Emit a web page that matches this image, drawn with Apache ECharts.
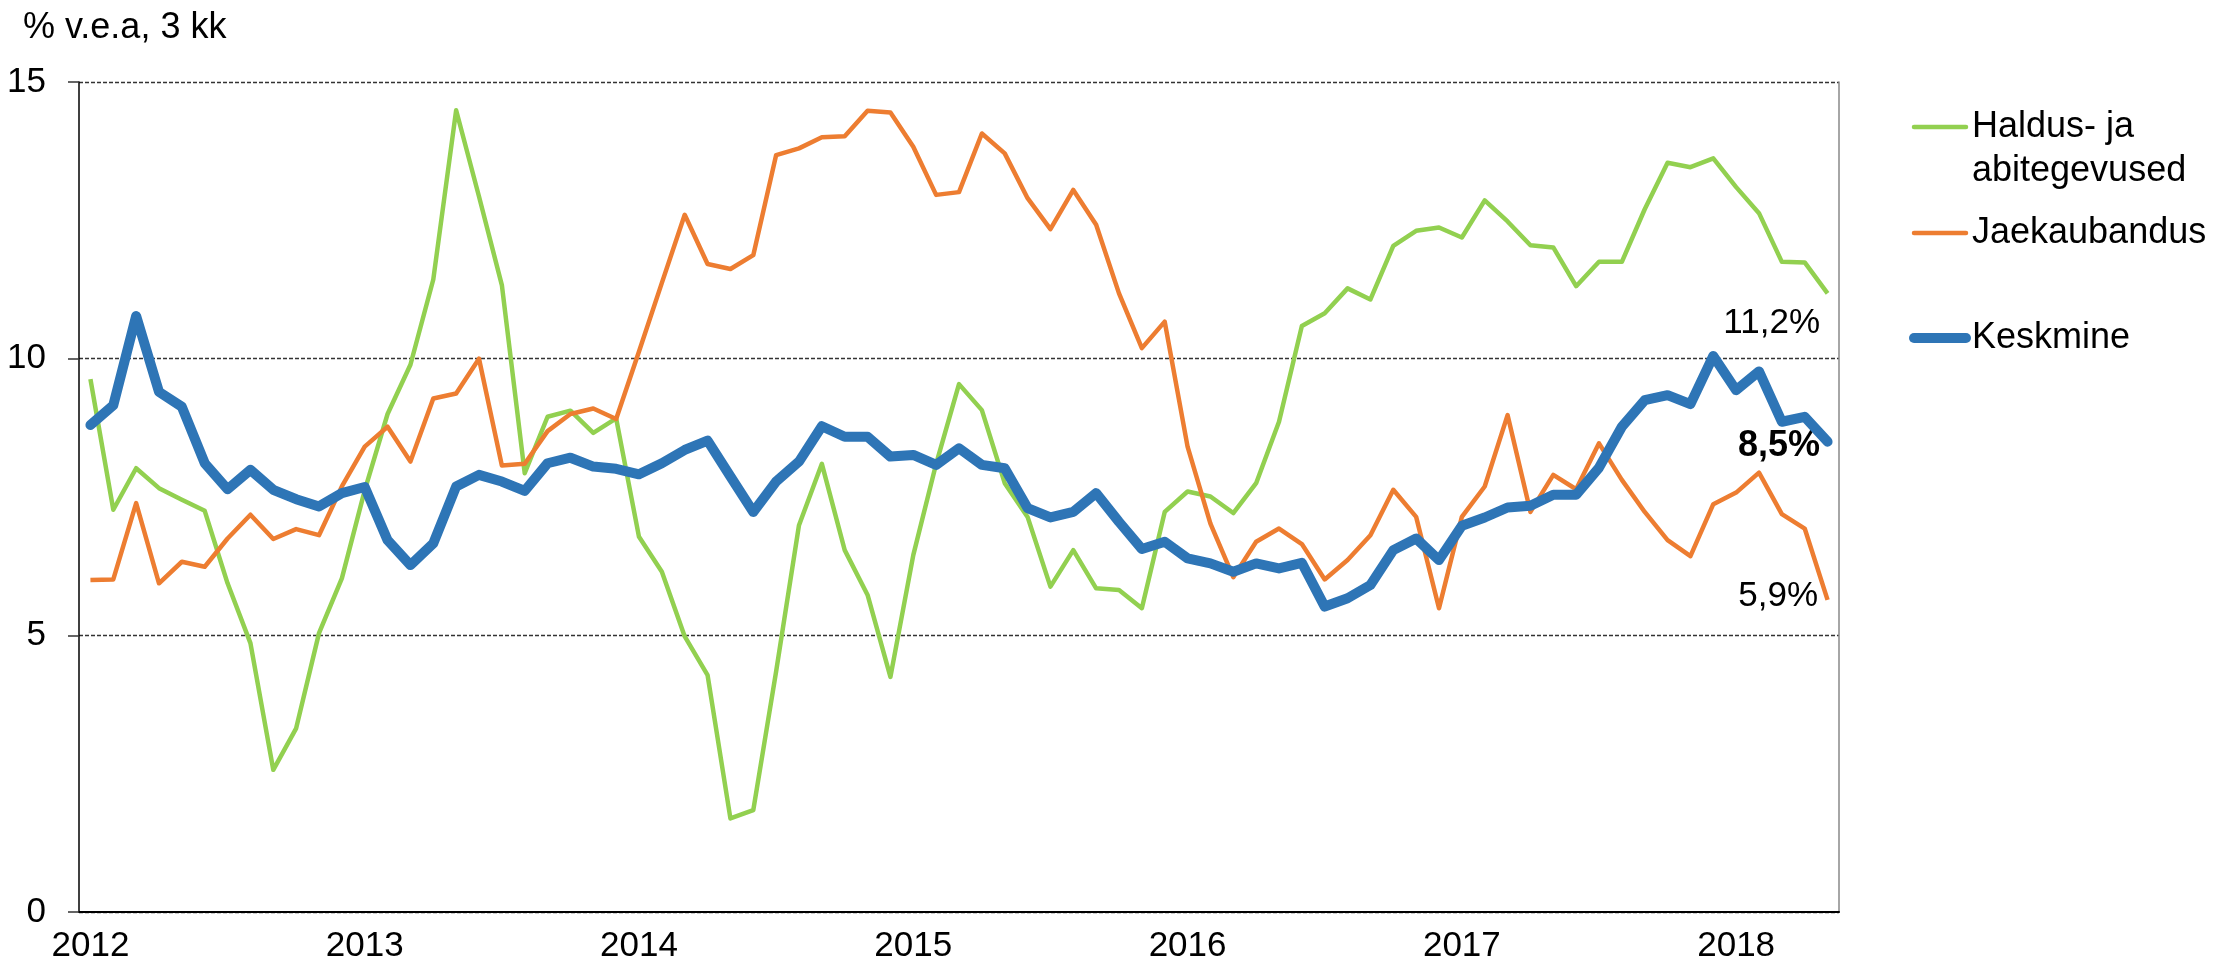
<!DOCTYPE html>
<html>
<head>
<meta charset="utf-8">
<script src="https://cdn.jsdelivr.net/npm/echarts@6/dist/echarts.min.js"></script>
<style>
html, body { margin: 0; padding: 0; background: #fff; }
#chart { width: 2220px; height: 974px; }
</style>
</head>
<body>
<div id="chart"></div>
<script>
// kuud 2012-01 ... 2018-05
const months = [
  '2012-01', '2012-02', '2012-03', '2012-04', '2012-05', '2012-06', '2012-07', '2012-08', '2012-09', '2012-10', '2012-11', '2012-12',
  '2013-01', '2013-02', '2013-03', '2013-04', '2013-05', '2013-06', '2013-07', '2013-08', '2013-09', '2013-10', '2013-11', '2013-12',
  '2014-01', '2014-02', '2014-03', '2014-04', '2014-05', '2014-06', '2014-07', '2014-08', '2014-09', '2014-10', '2014-11', '2014-12',
  '2015-01', '2015-02', '2015-03', '2015-04', '2015-05', '2015-06', '2015-07', '2015-08', '2015-09', '2015-10', '2015-11', '2015-12',
  '2016-01', '2016-02', '2016-03', '2016-04', '2016-05', '2016-06', '2016-07', '2016-08', '2016-09', '2016-10', '2016-11', '2016-12',
  '2017-01', '2017-02', '2017-03', '2017-04', '2017-05', '2017-06', '2017-07', '2017-08', '2017-09', '2017-10', '2017-11', '2017-12',
  '2018-01', '2018-02', '2018-03', '2018-04', '2018-05'
]

const haldus = [
  9.63, 7.27, 8.02, 7.66, 7.45, 7.25, 5.94, 4.86, 2.57, 3.32, 5.04, 6.03,
  7.62, 9.0, 9.89, 11.43, 14.49, 12.93, 11.33, 7.93, 8.95, 9.06, 8.66, 8.92,
  6.78, 6.15, 4.98, 4.28, 1.69, 1.84, 4.35, 6.99, 8.1, 6.54, 5.73, 4.25,
  6.45, 8.1, 9.54, 9.07, 7.75, 7.14, 5.88, 6.54, 5.85, 5.82, 5.49, 7.23,
  7.6, 7.51, 7.21, 7.75, 8.86, 10.59, 10.82, 11.27, 11.07, 12.04, 12.31, 12.37,
  12.19, 12.86, 12.48, 12.05, 12.01, 11.31, 11.75, 11.75, 12.7, 13.54, 13.46, 13.62,
  13.1, 12.63, 11.75, 11.74, 11.18
]

const jaekaubandus = [
  6.0, 6.01, 7.39, 5.94, 6.33, 6.24, 6.75, 7.18, 6.74, 6.92, 6.81, 7.69,
  8.41, 8.77, 8.14, 9.28, 9.37, 10.0, 8.07, 8.10, 8.69, 9.0, 9.10, 8.91,
  10.13, 11.37, 12.60, 11.71, 11.62, 11.87, 13.68, 13.80, 14.0, 14.02, 14.48, 14.45,
  13.83, 12.96, 13.01, 14.07, 13.71, 12.90, 12.34, 13.05, 12.42, 11.18, 10.19, 10.67,
  8.41, 7.02, 6.05, 6.69, 6.93, 6.65, 6.01, 6.36, 6.81, 7.63, 7.14, 5.49,
  7.14, 7.69, 8.98, 7.23, 7.90, 7.64, 8.47, 7.81, 7.23, 6.72, 6.43, 7.37,
  7.58, 7.94, 7.19, 6.93, 5.64
]

const keskmine = [
  8.80, 9.16, 10.77, 9.40, 9.13, 8.11, 7.64, 7.99, 7.63, 7.46, 7.33, 7.57,
  7.68, 6.72, 6.27, 6.66, 7.69, 7.90, 7.78, 7.61, 8.11, 8.21, 8.05, 8.01,
  7.91, 8.11, 8.35, 8.52, 7.87, 7.23, 7.78, 8.14, 8.78, 8.59, 8.59, 8.23,
  8.26, 8.08, 8.38, 8.08, 8.02, 7.30, 7.13, 7.23, 7.57, 7.05, 6.56, 6.69,
  6.39, 6.30, 6.15, 6.30, 6.21, 6.31, 5.52, 5.67, 5.91, 6.54, 6.75, 6.36,
  6.98, 7.13, 7.31, 7.34, 7.54, 7.54, 8.03, 8.77, 9.25, 9.34, 9.18, 10.05,
  9.43, 9.77, 8.86, 8.95, 8.50
]

const yTicks = [0, 5, 10, 15]
const seriesNames = ['Haldus- ja\nabitegevused', 'Jaekaubandus', 'Keskmine']
const colors = ['#92D050', '#ED7D31', '#2E75B6']
const endLabels = ['11,2%', '8,5%', '5,9%']

const font = "'Liberation Sans', Arial, sans-serif"
const myChart = echarts.init(document.getElementById('chart'))

// legend drawn by hand: first item has two text lines, line sits on first one
const legendRows = [127, 233, 338]
const legendWidths = [4.5, 4.5, 10]
const legendGraphics = []
seriesNames.forEach((name, i) => {
  legendGraphics.push({
    type: 'line',
    shape: { x1: 1914, y1: legendRows[i], x2: 1966, y2: legendRows[i] },
    style: { stroke: colors[i], lineWidth: legendWidths[i], lineCap: 'round' }
  })
  legendGraphics.push({
    type: 'text',
    x: 1972,
    y: legendRows[i],
    style: {
      text: name,
      font: '36px ' + font,
      fill: '#000',
      verticalAlign: 'middle',
      lineHeight: 44
    }
  })
})
// first legend text has two lines: re-anchor to top
legendGraphics[1].style.verticalAlign = 'top'
legendGraphics[1].y = legendRows[0] - 22

myChart.setOption({
  animation: false,
  grid: {
    left: 79,
    right: 381,
    top: 82,
    bottom: 62
  },
  xAxis: {
    type: 'category',
    data: months,
    boundaryGap: true,
    axisLine: {
      lineStyle: { color: '#000', width: 2 }
    },
    axisTick: {
      interval: (index) => index % 12 === 0,
      length: 11,
      lineStyle: { color: '#666', width: 2 }
    },
    axisLabel: {
      interval: (index) => index % 12 === 0,
      formatter: (v) => v.slice(0, 4),
      fontSize: 35,
      fontFamily: font,
      color: '#000',
      margin: 17
    },
    splitLine: { show: false }
  },
  yAxis: [
    {
      type: 'value',
      min: yTicks[0],
      max: yTicks[yTicks.length - 1],
      interval: 5,
      axisLine: {
        show: true,
        lineStyle: { color: '#000', width: 1.5 }
      },
      axisTick: {
        show: true,
        length: 11,
        lineStyle: { color: '#333', width: 1.5 }
      },
      axisLabel: {
        fontSize: 35,
        fontFamily: font,
        color: '#000',
        margin: 33
      },
      splitLine: {
        show: true,
        lineStyle: { color: '#333', width: 1.3, type: [4, 2] }
      }
    },
    {
      // right frame of the plot
      type: 'value',
      position: 'right',
      min: 0,
      max: 15,
      axisLine: {
        show: true,
        lineStyle: { color: '#888', width: 1.5 }
      },
      axisTick: { show: false },
      axisLabel: { show: false },
      splitLine: { show: false }
    }
  ],
  series: [
    {
      name: seriesNames[0],
      type: 'line',
      data: haldus,
      symbol: 'none',
      lineStyle: { color: colors[0], width: 4.5, join: 'round' },
      z: 2
    },
    {
      name: seriesNames[1],
      type: 'line',
      data: jaekaubandus,
      symbol: 'none',
      lineStyle: { color: colors[1], width: 4.5, join: 'round' },
      z: 3
    },
    {
      name: seriesNames[2],
      type: 'line',
      data: keskmine,
      symbol: 'none',
      lineStyle: { color: colors[2], width: 10, join: 'round', cap: 'round' },
      z: 4
    }
  ],
  graphic: [
    {
      type: 'text',
      x: 23,
      y: 28,
      style: {
        text: '% v.e.a, 3 kk',
        font: '36px ' + font,
        fill: '#000',
        verticalAlign: 'middle'
      }
    },
    {
      type: 'text',
      x: 1820,
      y: 323,
      style: { text: endLabels[0], font: '35px ' + font, fill: '#000', align: 'right', verticalAlign: 'middle' }
    },
    {
      type: 'text',
      x: 1820,
      y: 446,
      style: { text: endLabels[1], font: 'bold 36px ' + font, fill: '#000', align: 'right', verticalAlign: 'middle' }
    },
    {
      type: 'text',
      x: 1818,
      y: 596,
      style: { text: endLabels[2], font: '35px ' + font, fill: '#000', align: 'right', verticalAlign: 'middle' }
    }
  ].concat(legendGraphics)
})
</script>
</body>
</html>
